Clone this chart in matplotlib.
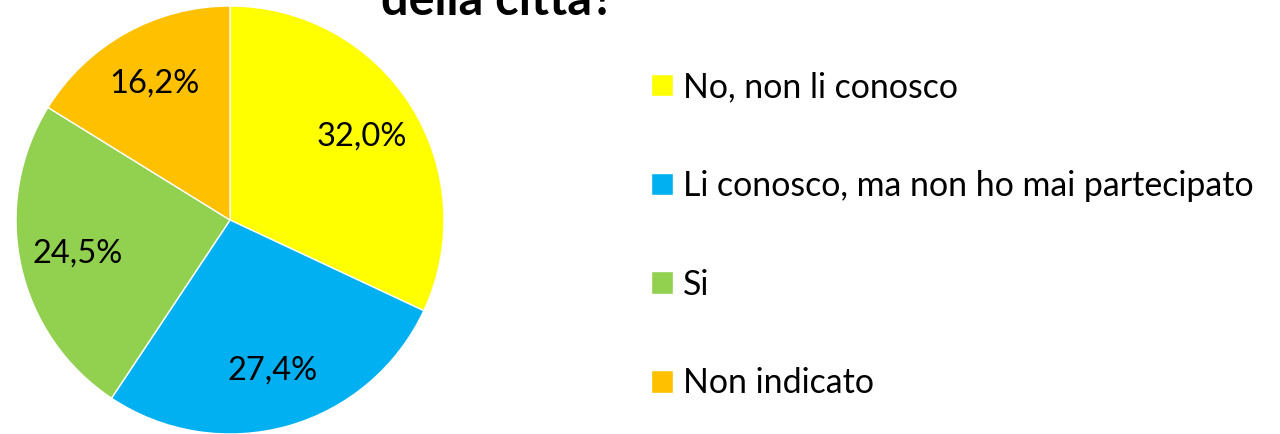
import matplotlib.pyplot as plt

labels = ['No, non li conosco', 'Li conosco, ma non ho mai partecipato', 'Si', 'Non indicato']
values = [32.0, 27.4, 24.5, 16.2]
colors = ['#FFFF00', '#00B0F0', '#92D050', '#FFC000']

plt.rcParams['font.family'] = ['Lato', 'DejaVu Sans']

W, H = 1280, 434
fig = plt.figure(figsize=(W / 100, H / 100), dpi=100)

cx, cy, r = 230, 220, 214
ax = fig.add_axes([(cx - r) / W, (H - cy - r) / H, 2 * r / W, 2 * r / H])
wedges, texts, autotexts = ax.pie(values, colors=colors, startangle=90, counterclock=False,
                                  autopct=lambda p: f'{p:.1f}%'.replace('.', ','),
                                  pctdistance=0.73, radius=1,
                                  wedgeprops=dict(edgecolor='white', linewidth=1),
                                  textprops=dict(fontsize=23.5, color='black'))
ax.set_xlim(-1, 1)
ax.set_ylim(-1, 1)
ax.set_aspect('equal')
ax.axis('off')

# title is cut off at the top edge in the original
fig.text(498 / W, 1 - 15 / H, 'della città?', ha='center', va='baseline',
         fontsize=35, fontweight='bold')

leg = fig.legend(wedges, labels, loc='upper left', bbox_to_anchor=(651 / W, 1 - 71 / H),
                 frameon=False, fontsize=24.4, handlelength=0.65, handleheight=0.65,
                 handletextpad=0.3, labelspacing=1.97, borderpad=0, borderaxespad=0)

fig.savefig('out.png', dpi=100)
